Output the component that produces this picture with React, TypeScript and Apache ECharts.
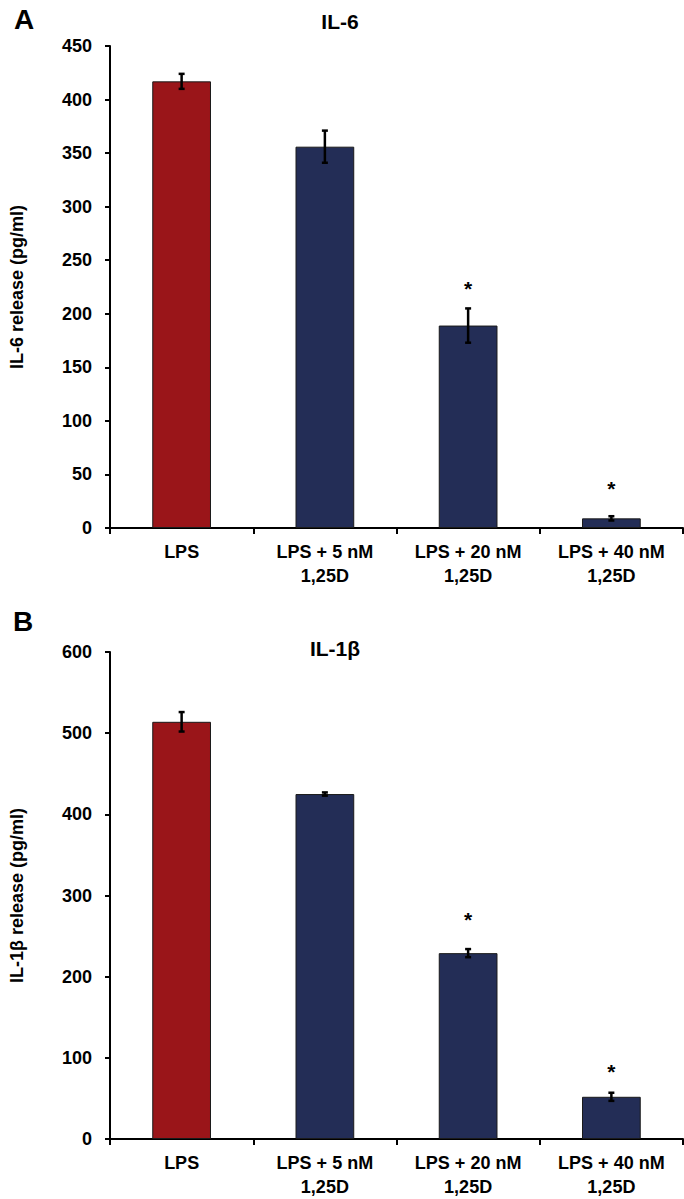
import React, { useEffect, useRef } from "react";
import * as echarts from "echarts";

const categories = ["LPS", "LPS + 5 nM\n1,25D", "LPS + 20 nM\n1,25D", "LPS + 40 nM\n1,25D"];
const il6Values = [417, 356, 189, 9];
const il6Errors = [7, 15, 16, 2];
const il6Stars: (number | null)[] = [null, null, 228, 42];
const il6Ticks = { min: 0, max: 450, interval: 50 };
const il1bValues = [514, 425, 229, 52];
const il1bErrors = [12, 2, 5, 5];
const il1bStars: (number | null)[] = [null, null, 277, 89];
const il1bTicks = { min: 0, max: 600, interval: 100 };
const barColors = ["#9A1519", "#232D56", "#232D56", "#232D56"];

const FONT = "Liberation Sans, Arial, sans-serif";

function errorRender(params: any, api: any) {
  const x = api.value(0);
  const v = api.value(1);
  const e = api.value(2);
  const top = api.coord([x, v + e]);
  const bot = api.coord([x, v - e]);
  const hw = 3;
  const st = { stroke: "#000", lineWidth: 2.5 };
  return {
    type: "group",
    children: [
      { type: "line", shape: { x1: top[0], y1: top[1], x2: bot[0], y2: bot[1] }, style: st },
      { type: "line", shape: { x1: top[0] - hw, y1: top[1], x2: top[0] + hw, y2: top[1] }, style: st },
      { type: "line", shape: { x1: bot[0] - hw, y1: bot[1], x2: bot[0] + hw, y2: bot[1] }, style: st },
    ],
  };
}

function starRender(params: any, api: any) {
  const p = api.coord([api.value(0), api.value(1)]);
  return {
    type: "text",
    x: p[0],
    y: p[1] + 5,
    style: {
      text: "*",
      fontSize: 21,
      fontWeight: "bold",
      fontFamily: FONT,
      fill: "#000",
      align: "center",
      verticalAlign: "middle",
    },
  };
}

function makeXAxis(gridIndex: number) {
  return {
    type: "category",
    gridIndex,
    data: categories,
    axisLine: { lineStyle: { color: "#000", width: 2 } },
    axisTick: { show: true, length: 6, lineStyle: { color: "#000", width: 2 } },
    axisLabel: {
      color: "#000",
      fontSize: 18,
      fontWeight: "bold",
      fontFamily: FONT,
      lineHeight: 24,
      margin: 12,
      interval: 0,
    },
  };
}

function makeYAxis(gridIndex: number, ticks: any, name: string) {
  return {
    type: "value",
    gridIndex,
    min: ticks.min,
    max: ticks.max,
    interval: ticks.interval,
    name,
    nameLocation: "middle",
    nameGap: 84,
    nameTextStyle: { color: "#000", fontSize: 18, fontWeight: "bold", fontFamily: FONT },
    axisLine: { show: true, lineStyle: { color: "#000", width: 2 } },
    axisTick: { show: true, length: 5, lineStyle: { color: "#000", width: 2 } },
    splitLine: { show: false },
    axisLabel: { color: "#000", fontSize: 18, fontWeight: "bold", fontFamily: FONT, margin: 18 },
  };
}

function barSeries(idx: number, values: number[]) {
  return {
    type: "bar",
    xAxisIndex: idx,
    yAxisIndex: idx,
    barWidth: "41%",
    data: values.map((v, i) => ({
      value: v,
      itemStyle: { color: barColors[i], borderColor: "#1a1a1a", borderWidth: 1 },
    })),
  };
}

function errSeries(idx: number, values: number[], errs: number[]) {
  return {
    type: "custom",
    xAxisIndex: idx,
    yAxisIndex: idx,
    renderItem: errorRender,
    z: 5,
    data: values.map((v, i) => [i, v, errs[i]]),
  };
}

function starSeries(idx: number, stars: (number | null)[]) {
  return {
    type: "custom",
    xAxisIndex: idx,
    yAxisIndex: idx,
    renderItem: starRender,
    z: 5,
    data: stars.map((s, i) => (s == null ? null : [i, s])).filter((d) => d !== null),
  };
}

export default function App() {
  const ref = useRef<HTMLDivElement>(null);
  useEffect(() => {
    document.body.style.margin = "0";
    const chart = echarts.init(ref.current!, null, { renderer: "svg" });
    const textStyle = (t: string, x: number, y: number, size: number) => ({
      type: "text",
      x,
      y,
      style: {
        text: t,
        fontSize: size,
        fontWeight: "bold",
        fontFamily: FONT,
        fill: "#000",
        align: "center",
        verticalAlign: "middle",
      },
    });
    chart.setOption({
      animation: false,
      backgroundColor: "#fff",
      grid: [
        { left: 95, top: 46, width: 588, height: 482 },
        { left: 95, top: 652, width: 588, height: 487 },
      ],
      xAxis: [makeXAxis(0), makeXAxis(1)],
      yAxis: [
        makeYAxis(0, il6Ticks, "IL-6 release (pg/ml)"),
        makeYAxis(1, il1bTicks, "IL-1β release (pg/ml)"),
      ],
      graphic: [
        textStyle("A", 24, 19, 28),
        textStyle("IL-6", 340, 21, 21),
        textStyle("B", 23, 621, 28),
        textStyle("IL-1β", 335, 648, 21),
      ],
      series: [
        barSeries(0, il6Values),
        errSeries(0, il6Values, il6Errors),
        starSeries(0, il6Stars),
        barSeries(1, il1bValues),
        errSeries(1, il1bValues, il1bErrors),
        starSeries(1, il1bStars),
      ],
    });
    return () => chart.dispose();
  }, []);
  return <div ref={ref} style={{ width: 684, height: 1199 }} />;
}
